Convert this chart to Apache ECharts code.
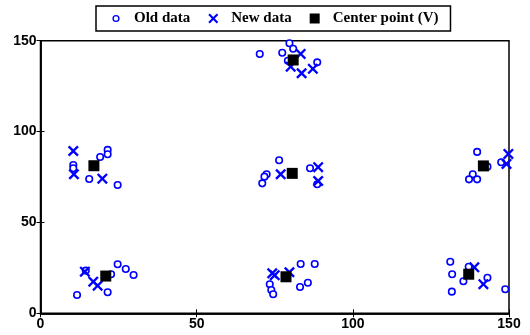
<!DOCTYPE html>
<html><head><meta charset="utf-8">
<script src="https://cdn.jsdelivr.net/npm/echarts@6/dist/echarts.min.js"></script>
<style>html,body{margin:0;padding:0;background:#fff}#c{width:530px;height:335px}</style>
</head><body><div id="c"></div>
<script>
const xTicks = [0, 50, 100, 150];
const yTicks = [0, 50, 100, 150];
const oldData = [
  [21.5,89.9],[21.5,87.5],[19.1,86.0],[10.5,81.6],[10.5,79.8],[15.6,73.9],[24.7,70.6],
  [24.7,27.0],[27.3,24.4],[29.8,21.1],[22.6,21.5],[21.5,11.6],[11.7,10.1],[14.5,23.5],
  [70.2,142.7],[79.7,148.6],[80.9,145.6],[77.4,143.4],[88.6,138.1],[79.2,139.0],
  [76.4,84.2],[72.4,76.5],[71.7,75.2],[71.0,71.5],[86.3,79.8],[88.6,71.0],
  [83.3,27.1],[87.8,27.1],[85.6,16.8],[83.1,14.5],[73.4,16.0],[73.9,12.8],[74.5,10.5],
  [139.8,88.8],[143.1,80.7],[138.4,76.5],[137.2,73.7],[139.8,73.7],[147.5,83.1],
  [131.2,28.4],[131.8,21.5],[131.7,11.9],[135.4,17.6],[137.1,25.6],[143.1,19.6],[148.8,13.2]
];
const newData = [
  [10.5,89.3],[10.7,76.5],[19.8,74.1],
  [14.2,22.9],[16.9,17.4],[18.3,15.2],
  [83.3,142.7],[80.1,135.7],[83.6,132.1],[87.2,134.5],
  [76.9,76.5],[88.9,80.4],[88.9,72.8],
  [74.2,22.0],[75.0,21.0],[79.7,22.6],
  [149.8,87.7],[149.2,82.2],
  [138.9,25.3],[141.8,16.0]
];
const centers = [
  [17.1,81.2],[20.9,20.5],[80.9,139.4],[80.6,77.0],[78.6,20.1],[141.8,81.1],[137.1,21.5]
];
const names = ['Old data', 'New data', 'Center point (V)'];

const X_PATH = 'path://M0,1.5 L1.5,0 L5,3.5 L8.5,0 L10,1.5 L6.5,5 L10,8.5 L8.5,10 L5,6.5 L1.5,10 L0,8.5 L3.5,5 Z';
const RING_PATH = 'path://M0,0 L0.01,0 Z M10,10 L9.99,10 Z M5,1.4 A3.6,3.6 0 1 1 5,8.6 A3.6,3.6 0 1 1 5,1.4 Z M5,2.8 A2.2,2.2 0 1 0 5,7.2 A2.2,2.2 0 1 0 5,2.8 Z';
const BLUE = '#0000ff';
const lbl = {color:'#000', fontFamily:'Liberation Sans, Arial, sans-serif', fontWeight:'bold', fontSize:14};

const chart = echarts.init(document.getElementById('c'), null, {renderer:'canvas'});
chart.setOption({
  animation:false,
  backgroundColor:'#fff',
  grid:{left:40.5, right:21, top:40.7, bottom:21.7, show:true, borderColor:'#000', borderWidth:1.5, backgroundColor:'transparent'},
  legend:{
    left:96, top:6,
    padding:[5,12,5,15],
    borderColor:'#000', borderWidth:1.5,
    itemGap:18, itemWidth:10, itemHeight:10,
    textStyle:{fontFamily:'Liberation Serif, Times New Roman, serif', fontWeight:'bold', fontSize:15, color:'#000', padding:[0,0,0,8]},
    data:[
      {name:names[0], icon:RING_PATH, itemStyle:{color:BLUE, borderWidth:0}},
      {name:names[1], icon:X_PATH, itemStyle:{color:BLUE}},
      {name:names[2], icon:'rect', itemStyle:{color:'#000'}}
    ]
  },
  xAxis:[
    {type:'value', min:xTicks[0], max:xTicks[xTicks.length-1], interval:50, position:'bottom',
     axisLine:{show:true, lineStyle:{color:'#000', width:1.5}},
     axisTick:{show:true, inside:true, length:4, lineStyle:{color:'#000'}},
     axisLabel:Object.assign({margin:4}, lbl), splitLine:{show:false}},
    {type:'value', min:xTicks[0], max:xTicks[xTicks.length-1], interval:50, position:'top',
     axisLine:{show:true, lineStyle:{color:'#000', width:1.5}},
     axisTick:{show:true, inside:true, length:4, lineStyle:{color:'#000'}},
     axisLabel:{show:false}, splitLine:{show:false}}
  ],
  yAxis:[
    {type:'value', min:yTicks[0], max:yTicks[yTicks.length-1], interval:50, position:'left',
     axisLine:{show:true, lineStyle:{color:'#000', width:1.5}},
     axisTick:{show:true, inside:true, length:4, lineStyle:{color:'#000'}},
     axisLabel:Object.assign({margin:4}, lbl), splitLine:{show:false}},
    {type:'value', min:yTicks[0], max:yTicks[yTicks.length-1], interval:50, position:'right',
     axisLine:{show:true, lineStyle:{color:'#000', width:1.5}},
     axisTick:{show:true, inside:true, length:4, lineStyle:{color:'#000'}},
     axisLabel:{show:false}, splitLine:{show:false}}
  ],
  series:[
    {name:names[0], type:'scatter', data:oldData, clip:false, symbol:'circle', symbolSize:6.5,
     itemStyle:{color:'#fff', borderColor:BLUE, borderWidth:1.6, opacity:1}},
    {name:names[1], type:'scatter', data:newData, clip:false, symbol:X_PATH, symbolSize:11,
     itemStyle:{color:BLUE, opacity:1}},
    {name:names[2], type:'scatter', data:centers, clip:false, symbol:'rect', symbolSize:11,
     itemStyle:{color:'#000', opacity:1}}
  ]
});
</script></body></html>
